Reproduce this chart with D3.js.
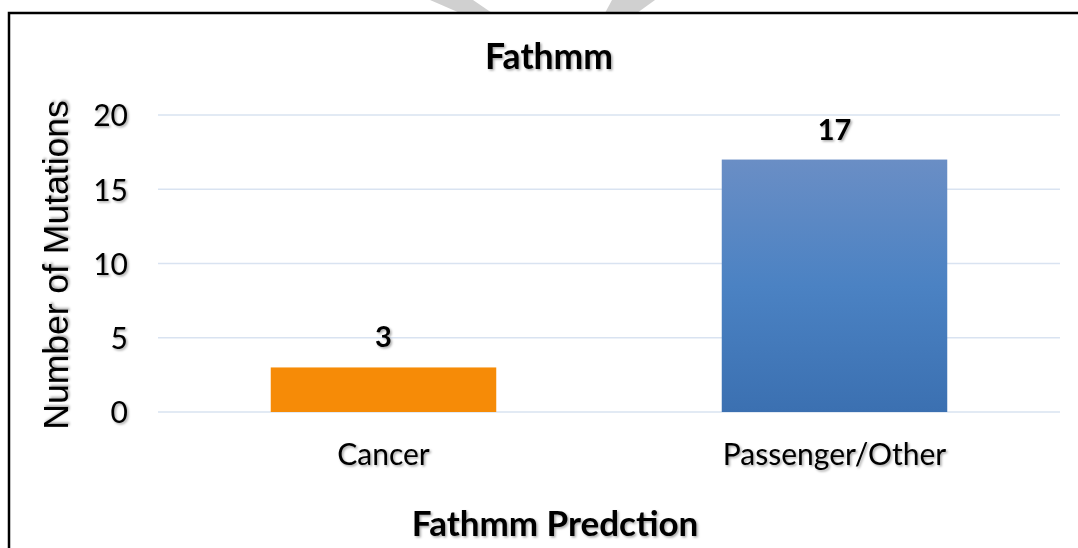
<!DOCTYPE html>
<html>
<head>
<meta charset="utf-8">
<script src="https://cdn.jsdelivr.net/npm/d3@7"></script>
<style>
  body { margin: 0; background: #fff; }
  svg { display: block; }
</style>
</head>
<body>
<svg id="chart" width="1078" height="548"></svg>
<script>
// Data
const categories = ["Cancer", "Passenger/Other"];
const values = [3, 17];
const yTicks = [0, 5, 10, 15, 20];
const chartTitle = "Fathmm";
const xAxisTitle = "Fathmm Predction";
const yAxisTitle = "Number of Mutations";

const svg = d3.select("#chart");
const W = 1078, H = 548;
const plot = { left: 158, right: 1060, top: 115, bottom: 412 };

const defs = svg.append("defs");
const shadow = defs.append("filter").attr("id", "txtShadow")
  .attr("x", "-10%").attr("y", "-20%").attr("width", "130%").attr("height", "160%");
shadow.append("feDropShadow")
  .attr("dx", 1.5).attr("dy", 1.5).attr("stdDeviation", 1)
  .attr("flood-color", "#000").attr("flood-opacity", 0.35);

const grad = defs.append("linearGradient").attr("id", "blueGrad")
  .attr("x1", 0).attr("y1", 0).attr("x2", 0).attr("y2", 1);
grad.append("stop").attr("offset", "0%").attr("stop-color", "#6a8ec5");
grad.append("stop").attr("offset", "50%").attr("stop-color", "#4b82c3");
grad.append("stop").attr("offset", "100%").attr("stop-color", "#3b70b1");

const barFills = ["#f68b07", "url(#blueGrad)"];

// Faint grey logo shapes peeking above the frame
svg.append("path").attr("d", "M430,0 L473,0 L492,13 L460,13 Z").attr("fill", "#d0d0d0");
svg.append("path").attr("d", "M612,0 L655,0 L637,13 L605,13 Z").attr("fill", "#d0d0d0");

// Frame
svg.append("path")
  .attr("d", `M9,${H} L9,13 L${W},13`)
  .attr("fill", "none").attr("stroke", "#000").attr("stroke-width", 2.5);

const x = d3.scaleBand().domain(categories)
  .range([plot.left, plot.right]).paddingInner(0.5).paddingOuter(0.25);
const y = d3.scaleLinear().domain([0, 20]).range([plot.bottom, plot.top]);

// Gridlines
svg.append("g").selectAll("line").data(yTicks).join("line")
  .attr("x1", plot.left).attr("x2", plot.right)
  .attr("y1", d => y(d)).attr("y2", d => y(d))
  .attr("stroke", "#d9e3f1").attr("stroke-width", 1.6);

// Y axis labels
const yAxis = svg.append("g")
  .attr("transform", `translate(${plot.left - 30},0)`)
  .call(d3.axisLeft(y).tickValues(yTicks).tickSize(0).tickPadding(0));
yAxis.select(".domain").remove();
yAxis.selectAll("text")
  .attr("font-family", "Lato, 'Open Sans', sans-serif")
  .attr("font-size", 30).attr("fill", "#000")
  .attr("dy", "0.36em")
  .attr("filter", "url(#txtShadow)");

// X axis labels
const xAxis = svg.append("g")
  .attr("transform", `translate(0,${plot.bottom})`)
  .call(d3.axisBottom(x).tickSize(0).tickPadding(0));
xAxis.select(".domain").remove();
xAxis.selectAll("text")
  .attr("font-family", "Lato, 'Open Sans', sans-serif")
  .attr("font-size", 30).attr("fill", "#000")
  .attr("dy", null).attr("y", 53)
  .attr("filter", "url(#txtShadow)");

// Bars
svg.append("g").selectAll("rect").data(values).join("rect")
  .attr("x", (d, i) => x(categories[i]))
  .attr("width", x.bandwidth())
  .attr("y", d => y(d))
  .attr("height", d => y(0) - y(d))
  .attr("fill", (d, i) => barFills[i]);

// Value labels
svg.append("g").selectAll("text").data(values).join("text")
  .attr("x", (d, i) => x(categories[i]) + x.bandwidth() / 2)
  .attr("y", d => y(d) - 20)
  .attr("text-anchor", "middle")
  .attr("font-family", "Lato, 'Open Sans', sans-serif")
  .attr("font-weight", "bold").attr("font-size", 29)
  .attr("filter", "url(#txtShadow)")
  .text(d => d);

// Titles
svg.append("text")
  .attr("x", 549).attr("y", 69)
  .attr("text-anchor", "middle")
  .attr("font-family", "Lato, 'Open Sans', sans-serif")
  .attr("font-weight", "bold").attr("font-size", 35.5)
  .attr("filter", "url(#txtShadow)")
  .text(chartTitle);

svg.append("text")
  .attr("x", 555).attr("y", 536)
  .attr("text-anchor", "middle")
  .attr("font-family", "Lato, 'Open Sans', sans-serif")
  .attr("font-weight", "bold").attr("font-size", 35)
  .attr("filter", "url(#txtShadow)")
  .text(xAxisTitle);

svg.append("text")
  .attr("transform", `translate(68,265) rotate(-90)`)
  .attr("text-anchor", "middle")
  .attr("font-family", "'Liberation Sans', Arial, sans-serif")
  .attr("font-size", 35.5)
  .attr("filter", "url(#txtShadow)")
  .text(yAxisTitle);
</script>
</body>
</html>
